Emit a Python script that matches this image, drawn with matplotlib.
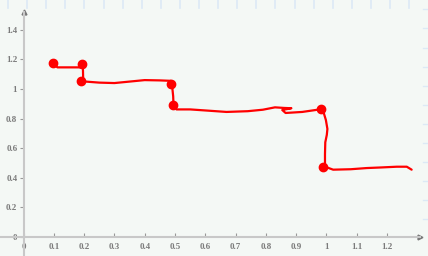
import matplotlib
matplotlib.use("Agg")
import matplotlib.pyplot as plt
from matplotlib.lines import Line2D
from matplotlib.ticker import FuncFormatter

# ---------- DATA ----------

path_x = [0.098, 0.112, 0.196, 0.197, 0.205, 0.25, 0.30, 0.35, 0.40, 0.45, 0.487,
          0.490, 0.494, 0.495, 0.505, 0.55, 0.60, 0.67, 0.74, 0.79, 0.83, 0.86,
          0.884, 0.854, 0.865, 0.92, 0.981, 0.990, 0.998, 1.003, 1.001, 0.996,
          0.995, 0.995, 1.022, 1.08, 1.133, 1.18, 1.232, 1.265, 1.281]
path_y = [1.174, 1.146, 1.146, 1.060, 1.050, 1.043, 1.040, 1.050, 1.060, 1.058, 1.055,
          1.030, 0.950, 0.890, 0.862, 0.862, 0.855, 0.845, 0.850, 0.860, 0.876, 0.872,
          0.870, 0.858, 0.838, 0.845, 0.863, 0.845, 0.790, 0.730, 0.690, 0.640,
          0.560, 0.475, 0.455, 0.458, 0.466, 0.470, 0.475, 0.475, 0.455]

point_x = [0.098, 0.192, 0.191, 0.487, 0.494, 0.981, 0.987]
point_y = [1.174, 1.167, 1.056, 1.032, 0.892, 0.863, 0.471]

x_ticks = [0, 0.1, 0.2, 0.3, 0.4, 0.5, 0.6, 0.7, 0.8, 0.9, 1.0, 1.1, 1.2]
y_ticks = [0, 0.2, 0.4, 0.6, 0.8, 1.0, 1.2, 1.4]

# ---------- STYLE ----------

BG = "#f4f8f5"
AXIS = "#c8c8c8"
LABEL = "#7a7a7a"
RED = "#ff0000"

fig = plt.figure(figsize=(4.28, 2.56), dpi=100)
fig.patch.set_facecolor(BG)
ax = fig.add_axes([0, 0, 1, 1])
ax.set_facecolor(BG)

ax.set_xlim(-0.0776, 1.335)
ax.set_ylim(-0.128, 1.601)

for side in ["top", "right"]:
    ax.spines[side].set_visible(False)
for side in ["left", "bottom"]:
    ax.spines[side].set_position(("data", 0))
    ax.spines[side].set_color(AXIS)
    ax.spines[side].set_linewidth(1.5)
ax.spines["bottom"].set_bounds(-0.0776, 1.31)
ax.spines["left"].set_bounds(-0.128, 1.52)

# arrow heads
ax.plot([1.31], [0], marker=">", color="#777777", markersize=3.5, clip_on=False)
ax.plot([0], [1.52], marker="^", color="#777777", markersize=3.5, clip_on=False)

ax.set_xticks(x_ticks)
ax.set_yticks(y_ticks)
fmt = FuncFormatter(lambda v, p: "%g" % round(v, 2))
ax.xaxis.set_major_formatter(fmt)
ax.yaxis.set_major_formatter(fmt)
ax.tick_params(axis="x", direction="in", length=3, width=0.8, color="#999999",
               pad=4, labelsize=6.5, labelcolor=LABEL)
ax.tick_params(axis="y", direction="out", length=3, width=0.8, color="#999999",
               pad=1.5, labelsize=6.5, labelcolor=LABEL)
for lab in ax.get_xticklabels() + ax.get_yticklabels():
    lab.set_family("Liberation Serif")
    lab.set_fontweight("bold")

# ---------- SERIES ----------

ax.plot(path_x, path_y, color=RED, linewidth=1.6, solid_capstyle="round",
        solid_joinstyle="round", zorder=3)
ax.plot(point_x, point_y, linestyle="none", marker="o", markersize=6,
        color=RED, zorder=4)

# ---------- FRAME DECORATION (light blue edge ticks) ----------

W, H = 428, 256
for i in range(22):
    px = 8 + i * 19.1
    fig.add_artist(Line2D([px / W, px / W], [1, 1 - 8 / H], color="#dce9f5",
                          linewidth=1.2, transform=fig.transFigure))
for i in range(12):
    py = 9.3 + i * 19.1
    fig.add_artist(Line2D([1 - 5 / W, 1], [1 - py / H, 1 - py / H], color="#dce9f5",
                          linewidth=1.0, transform=fig.transFigure))

fig.savefig("out.png", dpi=100, facecolor=BG)
